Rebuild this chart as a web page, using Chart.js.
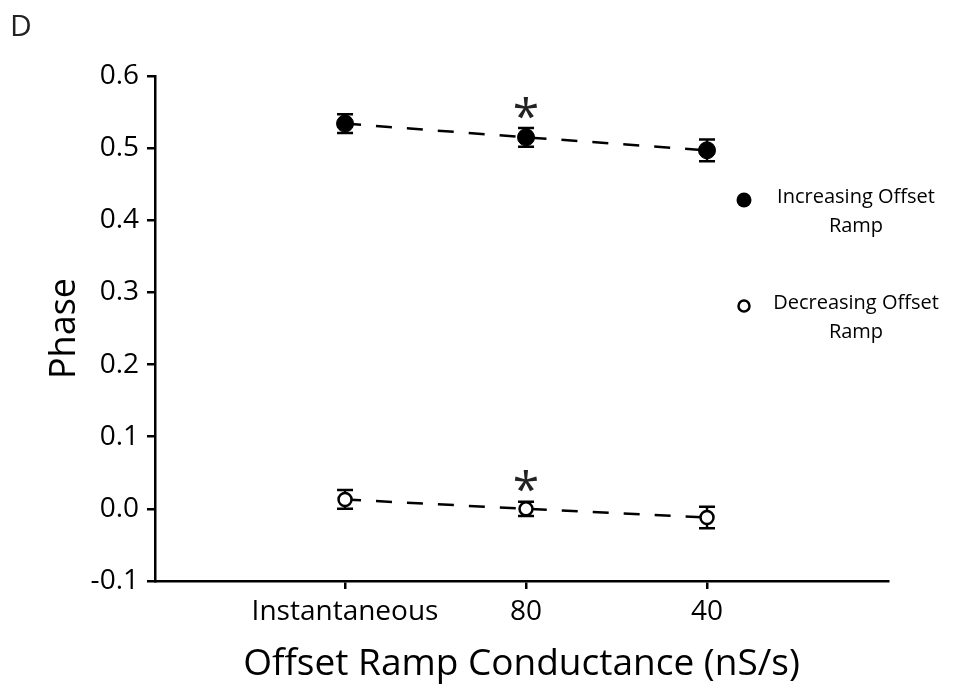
<!DOCTYPE html>
<html>
<head>
<meta charset="utf-8">
<script src="https://cdn.jsdelivr.net/npm/chart.js@4.4.1/dist/chart.umd.min.js"></script>
<style>
  html, body { margin: 0; padding: 0; background: #fff; }
  canvas { display: block; }
</style>
</head>
<body>
<canvas id="phase-chart" width="954" height="689"></canvas>
<script>
// Data
const categories = ["Instantaneous", "80", "40"];
const increasing = [0.534, 0.515, 0.497];
const increasingErr = [0.013, 0.013, 0.015];
const decreasing = [0.013, 0.0, -0.012];
const decreasingErr = [0.013, 0.010, 0.015];
const significant = [false, true, false];
const yMin = -0.1;
const yMax = 0.6;
const yStep = 0.1;
const legendLabels = [["Increasing Offset", "Ramp"], ["Decreasing Offset", "Ramp"]];

const FONT = "'Open Sans', 'Noto Sans', sans-serif";

const toPoints = (vals) => vals.map((v, i) => ({ x: i + 1, y: v }));

// Error bars + asterisks + legend + panel letter
const extras = {
  id: "extras",
  beforeDatasetsDraw(chart) {
    const { ctx, scales: { x, y } } = chart;
    const series = [[increasing, increasingErr], [decreasing, decreasingErr]];
    ctx.save();
    ctx.strokeStyle = "#000";
    ctx.lineWidth = 2.5;
    series.forEach(([vals, errs]) => {
      vals.forEach((v, i) => {
        const px = x.getPixelForValue(i + 1);
        const top = y.getPixelForValue(v + errs[i]);
        const bot = y.getPixelForValue(v - errs[i]);
        ctx.beginPath();
        ctx.moveTo(px, top); ctx.lineTo(px, bot);
        ctx.moveTo(px - 8, top); ctx.lineTo(px + 8, top);
        ctx.moveTo(px - 8, bot); ctx.lineTo(px + 8, bot);
        ctx.stroke();
      });
    });
    ctx.restore();
  },
  afterDraw(chart) {
    const { ctx, scales: { x, y } } = chart;
    ctx.save();
    ctx.fillStyle = "#222";
    ctx.textAlign = "center";
    ctx.textBaseline = "middle";
    ctx.font = "48px " + FONT;
    [[increasing, increasingErr], [decreasing, decreasingErr]].forEach(([vals, errs]) => {
      vals.forEach((v, i) => {
        if (!significant[i]) return;
        const px = x.getPixelForValue(i + 1);
        const py = y.getPixelForValue(v + errs[i]);
        ctx.fillText("*", px, py - 9);
      });
    });

    // legend
    ctx.fillStyle = "#000";
    ctx.font = "20px " + FONT;
    const lx = 744, tx = 856;
    const rows = [200, 306];
    rows.forEach((ry, k) => {
      ctx.beginPath();
      if (k === 0) {
        ctx.arc(lx, ry, 7.5, 0, Math.PI * 2);
        ctx.fill();
      } else {
        ctx.lineWidth = 2.5;
        ctx.arc(lx, ry, 5.5, 0, Math.PI * 2);
        ctx.stroke();
      }
      ctx.fillText(legendLabels[k][0], tx, ry - 3);
      ctx.fillText(legendLabels[k][1], tx, ry + 26);
    });

    // panel letter
    ctx.textAlign = "left";
    ctx.fillStyle = "#222";
    ctx.font = "30px " + FONT;
    ctx.fillText("D", 10, 27);
    ctx.restore();
  }
};

new Chart(document.getElementById("phase-chart").getContext("2d"), {
  type: "line",
  data: {
    datasets: [
      {
        label: "Increasing Offset Ramp",
        data: toPoints(increasing),
        borderColor: "#000",
        borderWidth: 2.5,
        borderDash: [16, 15],
        pointRadius: 8.5,
        pointBackgroundColor: "#000",
        pointBorderColor: "#000",
        pointBorderWidth: 1,
        tension: 0,
      },
      {
        label: "Decreasing Offset Ramp",
        data: toPoints(decreasing),
        borderColor: "#000",
        borderWidth: 2.5,
        borderDash: [16, 15],
        pointRadius: 6.5,
        pointBackgroundColor: "#fff",
        pointBorderColor: "#000",
        pointBorderWidth: 2.5,
        tension: 0,
      },
    ],
  },
  options: {
    responsive: false,
    animation: false,
    layout: { padding: { top: 76, right: 66, left: 0, bottom: 0 } },
    plugins: {
      legend: { display: false },
      tooltip: { enabled: false },
    },
    scales: {
      x: {
        type: "linear",
        min: -0.05,
        max: categories.length + 1,
        afterBuildTicks: (scale) => {
          scale.ticks = categories.map((c, i) => ({ value: i + 1 }));
        },
        afterFit: (scale) => { scale.height = 108; },
        ticks: {
          callback: (v) => categories[v - 1] ?? "",
          color: "#000",
          font: { family: FONT, size: 28 },
          padding: 6,
          maxRotation: 0,
        },
        grid: { drawOnChartArea: false, drawTicks: true, tickLength: 8, color: "#000", lineWidth: 2.5 },
        border: { display: true, color: "#000", width: 2.5 },
        title: {
          display: true,
          text: "Offset Ramp Conductance (nS/s)",
          color: "#000",
          font: { family: FONT, size: 37 },
          padding: { top: 0, bottom: 2 },
        },
      },
      y: {
        min: yMin,
        max: yMax,
        ticks: {
          stepSize: yStep,
          callback: (v) => (Math.abs(v) < 1e-9 ? 0 : v).toFixed(1),
          color: "#000",
          font: { family: FONT, size: 28 },
          padding: 8,
        },
        afterFit: (scale) => { scale.width = 155; },
        grid: { drawOnChartArea: false, drawTicks: true, tickLength: 8, color: "#000", lineWidth: 2.5 },
        border: { display: true, color: "#000", width: 2.5 },
        title: {
          display: true,
          text: "Phase",
          color: "#000",
          font: { family: FONT, size: 36 },
          padding: { top: 43, bottom: 0 },
        },
      },
    },
  },
  plugins: [extras],
});
</script>
</body>
</html>
